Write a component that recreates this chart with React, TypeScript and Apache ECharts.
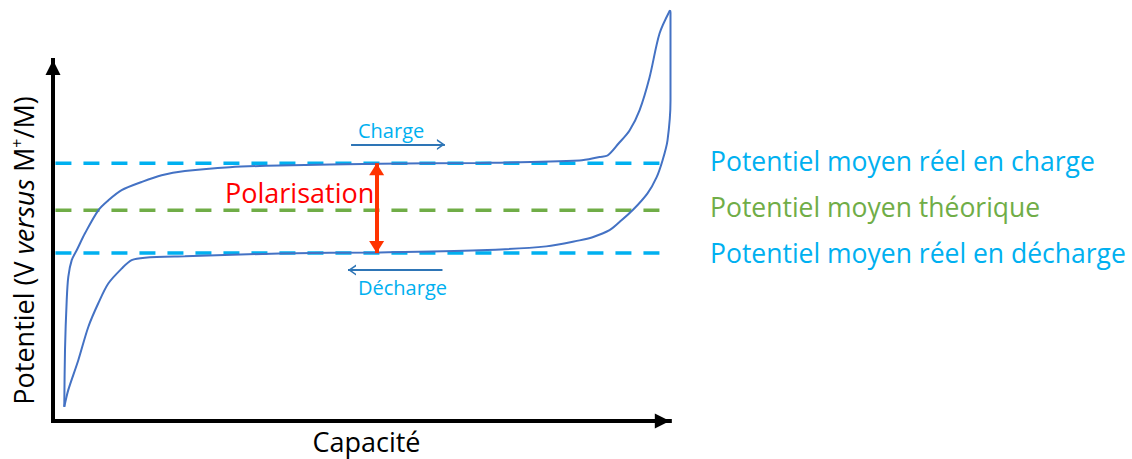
import React, { useEffect, useRef } from "react";
import * as echarts from "echarts";

// Galvanostatic charge curve (capacity %, potential arbitrary units)
const chargeCurve: [number, number][] = [
  [1.85, 4.0], [1.97, 20.1], [2.25, 34.2], [2.51, 40.8], [3.07, 45.5], [3.89, 48.3],
  [5.25, 53.1], [7.43, 59.6], [9.07, 62.4], [11.26, 65.3], [14.54, 67.6], [17.82, 69.5],
  [21.64, 70.7], [29.0, 71.8], [37.21, 72.3], [53.61, 72.8], [70.0, 73.0], [86.39, 73.7],
  [89.67, 74.7], [90.98, 75.1], [92.79, 78.5], [94.59, 82.2], [96.23, 87.9], [97.87, 97.2],
  [99.51, 109.6], [101.23, 116.2],
];
// Discharge curve (from end of charge back to start)
const dischargeCurve: [number, number][] = [
  [101.23, 116.2], [101.31, 115.5], [101.31, 90.7], [100.82, 79.4], [100.0, 73.7], [99.02, 68.9],
  [97.54, 64.4], [95.08, 59.6], [92.95, 56.3], [91.31, 54.0], [88.52, 52.0], [86.39, 51.1],
  [80.93, 49.4], [70.0, 48.3], [53.61, 47.7], [37.21, 47.4], [21.64, 46.6], [15.08, 46.2],
  [12.9, 45.5], [11.26, 43.1], [9.07, 38.9], [7.43, 33.3], [5.79, 26.6], [4.15, 17.2],
  [2.51, 8.8], [1.85, 4.0],
];
// Average potentials
const levelNames = [
  "Potentiel moyen réel en charge",
  "Potentiel moyen théorique",
  "Potentiel moyen réel en décharge",
];
const levelValues = [72.9, 59.6, 47.5];
const levelSpan = [0.4, 100.3];
// Axis arrows (origin -> tip)
const xAxisArrow: [number, number][] = [[0, 0], [101.2, 0]];
const yAxisArrow: [number, number][] = [[0, 0], [0, 102.1]];
// Annotation arrows
const polarisationArrow: [number, number][] = [[53.1, 72.9], [53.1, 47.5]];
const chargeArrow: [number, number][] = [[48.9, 78.2], [64.3, 78.2]];
const dischargeArrow: [number, number][] = [[63.9, 42.7], [48.4, 42.7]];

const FONT = "Open Sans";
const BLUE_LIGHT = "#00B0F0";
const GREEN = "#70AD47";
const CURVE = "#4472C4";
const ARROW_BLUE = "#2E75B6";
const CHEVRON = "path://M0,10 L5,0 L10,10 L8.3,10 L5,3.4 L1.7,10 Z";

export default function App() {
  const ref = useRef<HTMLDivElement>(null);
  useEffect(() => {
    document.body.style.margin = "0";
    const chart = echarts.init(ref.current!, undefined, { renderer: "svg" });
    const levelColors = [BLUE_LIGHT, GREEN, BLUE_LIGHT];
    const levelSeries = levelNames.map((name, i) => ({
      name,
      type: "line",
      data: levelSpan.map((x) => [x, levelValues[i]]),
      symbol: "none",
      silent: true,
      z: 1,
      lineStyle: { color: levelColors[i], width: 3.5, type: [16, 12] },
    }));
    const hiddenAxis = {
      type: "value",
      min: 0,
      axisLine: { show: false },
      axisTick: { show: false },
      axisLabel: { show: false },
      splitLine: { show: false },
    };
    const arrowLine = (pts: [number, number][], color: string, width: number, sym: string, size: number[], off: number, cap = "butt") => [
      { coord: pts[0], symbol: "none", lineStyle: { color, width, type: "solid", cap } },
      { coord: pts[1], symbol: sym, symbolSize: size, symbolOffset: [0, off] },
    ];
    chart.setOption({
      animation: false,
      grid: { left: 53, right: 451.2, top: 3.87, bottom: 38 },
      xAxis: { ...hiddenAxis, max: 103 },
      yAxis: { ...hiddenAxis, max: 118 },
      series: [
        ...levelSeries,
        {
          name: "Charge",
          type: "line",
          data: chargeCurve,
          symbol: "none",
          smooth: 0.3,
          z: 2,
          lineStyle: { color: CURVE, width: 2 },
        },
        {
          name: "Décharge",
          type: "line",
          data: dischargeCurve,
          symbol: "none",
          smooth: 0.3,
          z: 2,
          lineStyle: { color: CURVE, width: 2 },
          markLine: {
            silent: true,
            animation: false,
            label: { show: false },
            data: [
              arrowLine(xAxisArrow, "#000", 4, "triangle", [15, 15], 7.5, "square"),
              arrowLine(yAxisArrow, "#000", 4, "triangle", [15, 15], 7.5, "square"),
              [
                { coord: polarisationArrow[0], symbol: "triangle", symbolSize: [15, 12], symbolOffset: [0, 6], lineStyle: { color: "#FF3300", width: 4, type: "solid" } },
                { coord: polarisationArrow[1], symbol: "triangle", symbolSize: [15, 12], symbolOffset: [0, 6] },
              ],
              arrowLine(chargeArrow, ARROW_BLUE, 2, CHEVRON, [11, 8], 4),
              arrowLine(dischargeArrow, ARROW_BLUE, 2, CHEVRON, [11, 8], 4),
            ],
          },
        },
      ],
      graphic: [
        ...levelNames.map((t, i) => ({
          type: "text",
          x: 710,
          y: [160.5, 207, 252.5][i],
          style: { text: t, fill: levelColors[i], font: `26.5px "${FONT}"`, textVerticalAlign: "middle" },
        })),
        {
          type: "text",
          x: 225,
          y: 192.5,
          style: { text: "Polarisation", fill: "#FF0000", font: `27px "${FONT}"`, textVerticalAlign: "middle" },
        },
        {
          type: "text",
          x: 358,
          y: 130.5,
          style: { text: "Charge", fill: BLUE_LIGHT, font: `20px "${FONT}"`, textVerticalAlign: "middle" },
        },
        {
          type: "text",
          x: 358,
          y: 287,
          style: { text: "Décharge", fill: BLUE_LIGHT, font: `20px "${FONT}"`, textVerticalAlign: "middle" },
        },
        {
          type: "text",
          x: 366.5,
          y: 441.7,
          style: { text: "Capacité", fill: "#000", font: `27px "${FONT}"`, textAlign: "center", textVerticalAlign: "middle" },
        },
        {
          type: "text",
          x: 23.5,
          y: 250.5,
          rotation: Math.PI / 2,
          style: {
            text: "Potentiel (V {i|versus} M{s|+}/M)",
            fill: "#000",
            font: `27px "${FONT}"`,
            textAlign: "center",
            textVerticalAlign: "middle",
            rich: {
              i: { fontStyle: "italic", fontSize: 27, fontFamily: FONT, fill: "#000" },
              s: { fontSize: 16, fontFamily: FONT, fill: "#000", verticalAlign: "top", padding: [0, 0, 14, 0] },
            },
          },
        },
      ],
    });
    return () => chart.dispose();
  }, []);
  return <div ref={ref} style={{ width: 1132, height: 459 }} />;
}
